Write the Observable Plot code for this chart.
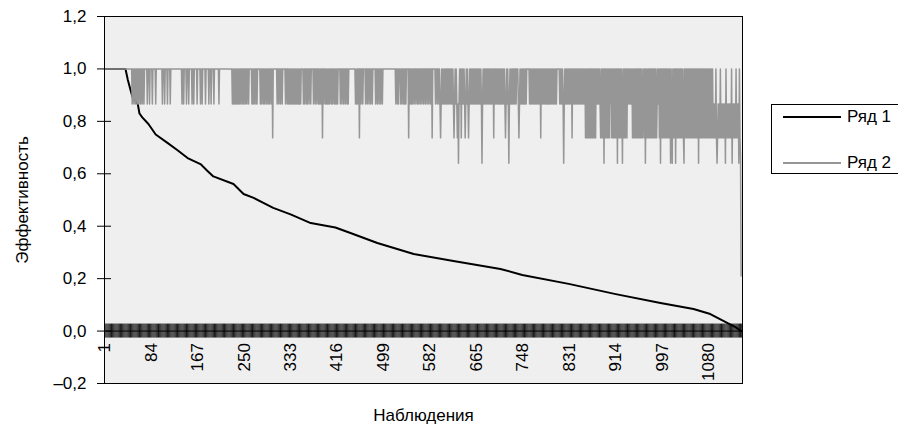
<!DOCTYPE html>
<html><head><meta charset="utf-8">
<script src="https://cdn.jsdelivr.net/npm/d3@7"></script>
<script src="https://cdn.jsdelivr.net/npm/@observablehq/plot@0.6"></script>
<style>
html,body{margin:0;padding:0;background:#fff;overflow:hidden;}
#wrap{position:relative;width:898px;height:433px;overflow:hidden;font-family:"Liberation Sans",Arial,sans-serif;}
#legend{position:absolute;left:771px;top:104px;width:160px;height:68px;border:1px solid #000;background:#fff;}
.li{position:absolute;left:0;width:160px;height:22px;}
.li .sw{position:absolute;left:11px;top:10px;width:58px;height:2px;}
.li span{position:absolute;left:75px;top:0;font-size:17px;line-height:22px;color:#000;}
</style></head><body><div id="wrap"></div><script>
// ---- data ----
const xLabels = [1, 84, 167, 250, 333, 416, 499, 582, 665, 748, 831, 914, 997, 1080];
const yTicks = [-0.2, 0, 0.2, 0.4, 0.6, 0.8, 1.0, 1.2];
const seriesNames = ["Ряд 1", "Ряд 2"];
const nObs = 1138;
const nCats = 1140;

// Ряд 1: observation number and efficiency read at points along the curve
const s1Obs = [1, 38, 42, 47, 51, 60, 63, 68, 79, 92, 113, 131, 149, 172, 185, 195, 231, 249, 267, 302, 333, 369, 413, 440, 488, 553, 624, 708, 747, 830, 914, 994, 1053, 1083, 1114, 1128, 1138];
const s1Val = [1.0, 1.0, 0.96, 0.92, 0.889, 0.866, 0.83, 0.815, 0.79, 0.75, 0.718, 0.69, 0.66, 0.637, 0.61, 0.59, 0.561, 0.523, 0.508, 0.47, 0.445, 0.412, 0.395, 0.374, 0.336, 0.294, 0.267, 0.237, 0.214, 0.18, 0.141, 0.107, 0.084, 0.065, 0.03, 0.015, 0.0];

// Ряд 2: baseline 1.0, observations that dip to each level
const s2Base = 1.0;
const dip87 = [50,53,56,59,62,65,68,71,77,81,86,92,104,108,113,118,139,142,147,151,157,160,166,172,175,181,187,191,196,205,229,231,233,235,237,239,241,243,246,248,250,253,255,258,264,266,268,271,273,279,281,284,286,289,291,294,296,299,309,312,315,318,324,327,329,331,333,335,337,339,341,343,345,347,349,351,356,358,361,363,366,369,374,377,380,383,385,387,392,395,397,399,401,403,406,408,411,413,415,417,422,425,428,431,434,436,449,451,453,459,462,467,470,473,476,479,485,488,491,494,497,521,524,526,530,532,535,537,539,547,549,551,554,557,560,562,565,568,571,574,577,580,583,592,595,598,
600,602,604,606,608,610,612,614,616,618,620,622,624,626,628,630,632,634,636,638,640,642,644,646,648,650,652,654,656,658,660,662,664,666,668,670,672,674,676,678,680,682,684,686,688,690,692,694,696,698,700,702,704,706,708,710,712,714,716,718,720,722,724,726,728,730,732,734,736,740,742,744,746,748,750,752,754,760,762,764,766,768,770,772,774,776,778,780,782,784,786,788,790,792,794,796,798,800,802,804,806,808,814,816,818,820,822,824,826,828,830,832,834,836,838,840,842,844,846,848,850,852,854,856,858,
880,882,884,886,905,925,936,938,940,942,963,988,990,1012,
1089,1091,1097,1099,1103,1105,1107,1109,1113,1115,1117,1119,1123,1125,1127,1131,1133];
const val87 = 0.866;
const dip74 = [301,390,456,544,586,601,625,631,638,645,651,696,717,741,780,836,860,862,864,866,868,870,872,874,876,878,887,889,891,895,897,899,901,903,907,909,911,913,915,919,921,923,928,930,932,934,944,946,948,950,952,954,956,958,960,962,965,969,971,973,975,977,979,981,983,985,987,992,996,998,1000,1002,1004,1006,1008,1010,1014,1017,1019,1023,1025,1027,1029,1031,1033,1035,1038,1040,1042,1044,1046,1048,1050,1052,1054,1056,1058,1060,1064,1066,1068,1070,1072,1074,1076,1078,1080,1082,1084,1086,1088,1090,1092,1094,1096,1098,1100,1102,1104,1106,1108,1112,1114,1116,1118,1120,1124,1126,1128,1130,1132,1136];
const val74 = 0.737;
const dip64 = [633,675,723,821,893,917,926,967,994,1012,1015,1021,1036,1062,1095,1110,1122,1134];
const val64 = 0.64;
const endObs = [1137, 1138];
const endVal = [0.66, 0.21];

// ---- build tables ----
const s1 = s1Obs.map((o, k) => ({i: o, v: s1Val[k]}));
const s2vals = new Array(nObs).fill(s2Base);
dip87.forEach(o => s2vals[o - 1] = val87);
dip74.forEach(o => s2vals[o - 1] = val74);
dip64.forEach(o => s2vals[o - 1] = val64);
endObs.forEach((o, k) => s2vals[o - 1] = endVal[k]);
const s2 = s2vals.map((v, k) => ({i: k + 1, v}));
const catTicks = d3.range(1, nCats + 1, 2);
const xDom = [0.5, nCats + 0.5];
const fmt = d => (d < 0 ? "–" : "") + Math.abs(d).toFixed(1).replace(".", ",");
const FONT = '"Liberation Sans",Arial,sans-serif';
const FS = 17;

const chart = Plot.plot({
  width: 898, height: 433,
  marginLeft: 104, marginRight: 156, marginTop: 16, marginBottom: 50,
  x: {domain: xDom, axis: null},
  y: {domain: [-0.2, 1.2], axis: null},
  style: {fontFamily: FONT, background: "#fff", color: "#000"},
  marks: [
    Plot.frame({fill: "#efefef", stroke: "none"}),
    Plot.ruleX(catTicks, {x: d => d, y1: 0, y2: 0, insetTop: -7, insetBottom: -7, stroke: "#000", strokeWidth: 0.9}),
    Plot.ruleY([0], {stroke: "#000", strokeWidth: 1}),
    Plot.ruleY(yTicks, {y: d => d, x1: xDom[0], x2: xDom[0], insetLeft: -7, insetRight: -7, stroke: "#000", strokeWidth: 1}),
    Plot.line(s1, {x: "i", y: "v", stroke: "#000", strokeWidth: 2}),
    Plot.line(s2, {x: "i", y: "v", stroke: "#969696", strokeWidth: 1.5}),
    Plot.frame({stroke: "#000", strokeWidth: 1}),
    Plot.text(yTicks, {x: xDom[0], y: d => d, text: fmt, textAnchor: "end", dx: -18, fontSize: FS}),
    Plot.text(xLabels, {x: d => d, y: 0, text: d => String(d), rotate: -90, textAnchor: "end", dy: 12, fontSize: FS}),
    Plot.text(["Эффективность"], {frameAnchor: "left", textAnchor: "middle", dx: -82, rotate: -90, fontSize: FS}),
    Plot.text(["Наблюдения"], {frameAnchor: "bottom", textAnchor: "middle", dy: 37, fontSize: FS})
  ]
});
const wrap = document.getElementById("wrap");
wrap.appendChild(chart);

const legend = document.createElement("div");
legend.id = "legend";
const legColors = ["#000", "#969696"];
const legTops = [1, 47];
seriesNames.forEach((name, k) => {
  const it = document.createElement("div");
  it.className = "li";
  it.style.top = legTops[k] + "px";
  const sw = document.createElement("div");
  sw.className = "sw";
  sw.style.background = legColors[k];
  const sp = document.createElement("span");
  sp.textContent = name;
  it.appendChild(sw); it.appendChild(sp);
  legend.appendChild(it);
});
wrap.appendChild(legend);
</script></body></html>
